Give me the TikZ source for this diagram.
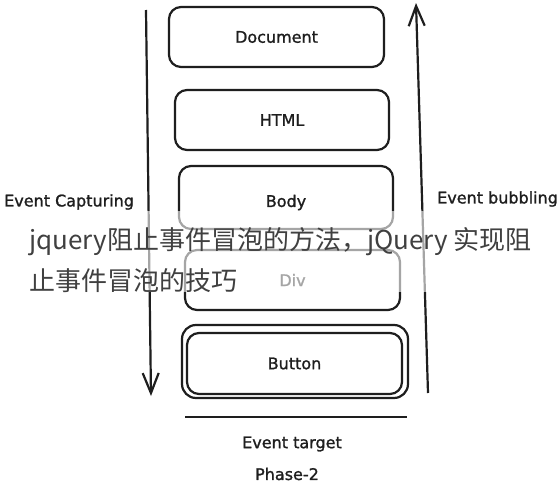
\documentclass[tikz,border=0pt]{standalone}
\usepackage{fontspec}
\setmainfont{DejaVu Sans}
\newfontfamily\hand{DejaVu Sans}[FakeBold=1.3]
\newfontfamily\cjk{Noto Sans CJK SC}
\usetikzlibrary{arrows.meta}
\definecolor{ink}{HTML}{1E1E1E}
\begin{document}
\begin{tikzpicture}[x=1pt,y=-1pt,
  box/.style={draw=ink, line width=2.2pt, rounded corners=12pt, inner sep=0pt, font=\hand\fontsize{16}{19}\selectfont, text=ink},
  lbl/.style={font=\hand\fontsize{16}{19}\selectfont, text=ink, inner sep=0pt},
  flow/.style={draw=ink, line width=2.2pt, -{Straight Barb[length=20pt,width=16pt,line width=2.2pt]}},
  rule/.style={draw=ink, line width=2.8pt}]
\useasboundingbox (0,0) rectangle (560,490);
\fill[white] (0,0) rectangle (560,490);
% boxes
\node[box, minimum width=215pt, minimum height=60pt] (doc) at (276.5,37) {Document};
\node[box, minimum width=214pt, minimum height=60pt] (html) at (282,120) {HTML};
\node[box, minimum width=214pt, minimum height=63pt] (body) at (286,197.5) {};
\node[lbl] (bodyt) at ([yshift=-5pt]body.center) {Body};
\node[box, minimum width=215pt, minimum height=60pt] (div) at (292.5,280) {Div};
\node[box, minimum width=226pt, minimum height=73pt, rounded corners=14pt] (btnout) at (295,361.5) {};
\node[box, minimum width=215pt, minimum height=61pt] (btn) at (294.5,363.5) {Button};
% arrows
\coordinate (capS) at (146,10);
\coordinate (capE) at (151,396);
\coordinate (bubS) at (428,393);
\coordinate (bubE) at (416,3);
\draw[flow] (capS) -- (capE);
\draw[flow] (bubS) -- (bubE);
% target rule
\coordinate (ruleL) at (185,417);
\coordinate (ruleR) at (407,417);
\draw[rule] (ruleL) -- (ruleR);
% labels
\node[lbl, anchor=west] (cap) at (4,202) {Event Capturing};
\node[lbl, anchor=west] (bub) at (437,199) {Event bubbling};
\node[lbl] (tgt) at (292,444) {Event target};
\node[lbl] (ph2) at (287,474) {Phase-2};
% watermark
\fill[white, opacity=0.6] (22,211) rectangle (540,292);
\node[anchor=west, font=\cjk\fontsize{26}{41}\selectfont, text=black!75, align=left, inner sep=0pt] (wm) at (29,260) {jquery阻止事件冒泡的方法，jQuery 实现阻\\止事件冒泡的技巧};
\end{tikzpicture}
\end{document}
